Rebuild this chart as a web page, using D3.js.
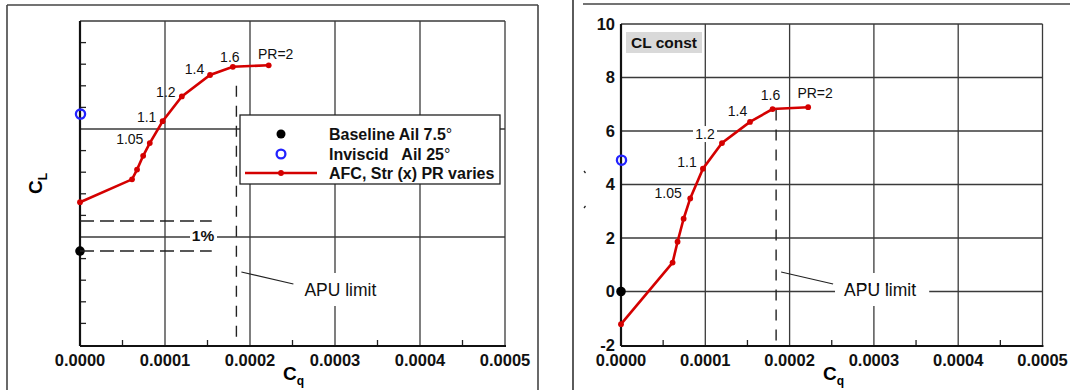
<!DOCTYPE html>
<html>
<head>
<meta charset="utf-8">
<script src="https://cdn.jsdelivr.net/npm/d3@7"></script>
<style>
  body { margin: 0; background: #fff; }
  text { font-family: "Liberation Sans", Arial, sans-serif; white-space: pre; }
</style>
</head>
<body>
<svg id="chart" width="1070" height="390"></svg>
<script>
// Cq of each AFC point, pressure ratio labels
var cq = [0, 0.0000612, 0.0000671, 0.0000743, 0.0000821, 0.0000972, 0.0001198, 0.000153, 0.0001798, 0.000222];
var prLabels = ['', '', '', '', '1.05', '1.1', '1.2', '1.4', '1.6', 'PR=2'];
// left panel: CL
var clAfc = [1.4161, 1.4267, 1.4312, 1.4376, 1.4435, 1.4536, 1.4651, 1.475, 1.4788, 1.4795];
var clBaseline = 1.3935;
var clInviscid = 1.4569;
// right panel: CL const
var constAfc = [-1.22, 1.08, 1.86, 2.72, 3.48, 4.59, 5.55, 6.34, 6.82, 6.89];
var constBaseline = 0;
var constInviscid = 4.91;
var apuLimit = 0.000184;
var xTicks = [0, 0.0001, 0.0002, 0.0003, 0.0004, 0.0005];
var xMinor = [0.00005, 0.00015, 0.00025, 0.00035, 0.00045];
var yTicksLeft = [1.40, 1.45, 1.50];
var yMinorLeft = [1.36, 1.37, 1.38, 1.39, 1.41, 1.42, 1.43, 1.44, 1.46, 1.47, 1.48, 1.49];
var yTicksRight = [-2, 0, 2, 4, 6, 8, 10];

var red = '#d40000', grid = '#3a3a3a';
var svg = d3.select('#chart');

function line(g, x1, y1, x2, y2, stroke, w, dash) {
  var l = g.append('line').attr('x1', x1).attr('y1', y1).attr('x2', x2).attr('y2', y2)
    .attr('stroke', stroke).attr('stroke-width', w);
  if (dash) l.attr('stroke-dasharray', dash);
  return l;
}

// panel frames
line(svg, 7, 5, 7, 390, '#444', 1.6);
line(svg, 7, 5, 538, 5, '#444', 1.6);
line(svg, 538, 5, 538, 390, '#444', 1.6);
line(svg, 573, 0, 573, 390, '#333', 1.6);
line(svg, 583, 4, 1070, 4, '#444', 1.6);

function panel(opts) {
  var x = opts.x, y = opts.y, g = svg.append('g');
  var x0 = x.range()[0], x1 = x.range()[1], y0 = y.range()[0], y1 = y.range()[1];

  // grid
  xTicks.slice(1).forEach(function(t) { line(g, x(t), y0, x(t), y1, grid, 1.3); });
  opts.yTicks.forEach(function(t) { if (y(t) < y0 - 1) line(g, x0, y(t), x1, y(t), grid, 1.3); });

  // minor ticks
  xMinor.forEach(function(t) { line(g, x(t), y0, x(t), y0 - 5, '#222', 1.3); });
  (opts.yMinor || []).forEach(function(t) { line(g, x0, y(t), x0 + 6, y(t), '#222', 1.3); });

  // axes
  line(g, x0, y0 + 1, x1 + 1, y0 + 1, '#111', 2.2);
  line(g, x0, y0 + 1, x0, y1, '#111', 2.2);

  g.selectAll('.xl').data(xTicks).enter().append('text')
    .attr('x', function(d) { return x(d); }).attr('y', 366)
    .attr('text-anchor', 'middle').attr('font-size', 16.5).attr('font-weight', 'bold').attr('fill', '#111')
    .text(function(d) { return d3.format('.4f')(d); });

  if (opts.yLabels) {
    g.selectAll('.yl').data(opts.yTicks).enter().append('text')
      .attr('x', x0 - 6).attr('y', function(d) { return y(d); }).attr('dy', '0.35em')
      .attr('text-anchor', 'end').attr('font-size', 16.5).attr('font-weight', 'bold').attr('fill', '#111')
      .text(function(d) { return d; });
  }

  // x axis title
  var xt = g.append('text').attr('x', opts.cqX).attr('y', 380).attr('font-size', 19).attr('font-weight', 'bold');
  xt.append('tspan').text('C');
  xt.append('tspan').attr('font-size', 12).attr('dy', 5).text('q');

  // APU limit
  var xa = x(apuLimit);
  line(g, xa, y(opts.apuTop), xa, y0, '#222', 1.4, '11,9');
  line(g, xa + 5, 272, xa + 57, 284, '#222', 1.2);
  g.append('rect').attr('x', xa + 59).attr('y', 273).attr('width', 94).attr('height', 33).attr('fill', '#fff');
  g.append('text').attr('x', xa + 68).attr('y', 290).attr('dy', '0.35em').attr('font-size', 17.5).attr('fill', '#111').text('APU limit');

  // AFC curve
  var pts = cq.map(function(d, i) { return [x(d), y(opts.afc[i])]; });
  g.append('path').attr('d', d3.line()(pts)).attr('fill', 'none').attr('stroke', red).attr('stroke-width', 2.6);
  g.selectAll('.pt').data(pts).enter().append('circle')
    .attr('cx', function(d) { return d[0]; }).attr('cy', function(d) { return d[1]; })
    .attr('r', 2.9).attr('fill', red);

  // PR labels
  prLabels.forEach(function(lab, i) {
    if (!lab) return;
    var off = opts.labelOff[i];
    var lx = pts[i][0] + off[0], ly = pts[i][1] + off[1];
    if (opts.labelBg && opts.labelBg[i]) {
      g.append('rect').attr('x', lx - 12).attr('y', ly - 8).attr('width', 24).attr('height', 16).attr('fill', '#fff');
    }
    g.append('text').attr('x', lx).attr('y', ly).attr('dy', '0.35em')
      .attr('text-anchor', 'middle').attr('font-size', 14).attr('fill', '#111').text(lab);
  });

  // baseline and inviscid
  g.append('circle').attr('cx', x(0)).attr('cy', y(opts.baseline)).attr('r', 4.8).attr('fill', '#000');
  g.append('circle').attr('cx', x(0) + 0.5).attr('cy', y(opts.inviscid)).attr('r', 4.6)
    .attr('fill', 'none').attr('stroke', '#2222ff').attr('stroke-width', 2.3);
  return g;
}

// left panel
var xL = d3.scaleLinear().domain([0, 0.0005]).range([80, 505]);
var yL = d3.scaleLinear().domain([1.35, 1.50]).range([345, 21]);
var gL = panel({
  x: xL, y: yL, yTicks: yTicksLeft, yMinor: yMinorLeft, yLabels: false,
  afc: clAfc, baseline: clBaseline, inviscid: clInviscid, apuTop: 1.47, cqX: 283,
  labelOff: [null, null, null, null, [-20, -4], [-16, -4], [-16, -4], [-15.5, -6], [-3, -10], [7, -11]]
});

// 1% band
var cl1 = clBaseline * 1.01;
line(gL, xL(0), yL(cl1), xL(0.000155), yL(cl1), '#222', 1.5, '14,6');
line(gL, xL(0), yL(clBaseline), xL(0.000155), yL(clBaseline), '#222', 1.5, '14,6');
var midY = (yL(cl1) + yL(clBaseline)) / 2;
gL.append('rect').attr('x', 190).attr('y', midY - 8).attr('width', 27).attr('height', 16).attr('fill', '#fff');
gL.append('text').attr('x', 203).attr('y', midY).attr('dy', '0.35em').attr('text-anchor', 'middle')
  .attr('font-size', 15.5).attr('font-weight', 'bold').attr('fill', '#111').text('1%');

// y title C_L
var yt = gL.append('text').attr('transform', 'translate(42,194) rotate(-90)').attr('font-size', 19).attr('font-weight', 'bold');
yt.append('tspan').text('C');
yt.append('tspan').attr('font-size', 12).attr('dy', 5).text('L');

// legend
var leg = gL.append('g');
leg.append('rect').attr('x', 240).attr('y', 115).attr('width', 260).attr('height', 69)
  .attr('fill', '#fff').attr('stroke', '#222').attr('stroke-width', 1.3);
leg.append('circle').attr('cx', 281).attr('cy', 134).attr('r', 4.5).attr('fill', '#000');
leg.append('circle').attr('cx', 281).attr('cy', 154).attr('r', 4.4).attr('fill', 'none').attr('stroke', '#2222ff').attr('stroke-width', 2.3);
line(leg, 245, 173, 317, 173, red, 2.6);
leg.append('circle').attr('cx', 281).attr('cy', 173).attr('r', 2.9).attr('fill', red);
var legText = [['Baseline Ail 7.5', '°'], ['Inviscid   Ail 25', '°'], ['AFC, Str (x) PR varies', '']];
legText.forEach(function(t, i) {
  var tx = leg.append('text').attr('x', 329).attr('y', [134, 154, 173][i]).attr('dy', '0.35em')
    .attr('font-size', 16).attr('font-weight', 'bold').attr('fill', '#111');
  tx.append('tspan').text(t[0]);
  if (t[1]) tx.append('tspan').attr('font-weight', 'normal').text(t[1]);
});

// right panel
var xR = d3.scaleLinear().domain([0, 0.0005]).range([621, 1042.5]);
var yR = d3.scaleLinear().domain([-2, 10]).range([345, 24]);
var gR = panel({
  x: xR, y: yR, yTicks: yTicksRight, yLabels: true,
  afc: constAfc, baseline: constBaseline, inviscid: constInviscid, apuTop: 6.8, cqX: 823,
  labelOff: [null, null, null, null, [-22, -5], [-16, -7], [-17, -9], [-12.5, -11], [-2, -13.6], [7, -14]],
  labelBg: [0, 0, 0, 0, 0, 0, 1, 0, 0, 0]
});
// white gap in the 0 gridline right of the APU label
gR.append('rect').attr('x', xR(apuLimit) + 59).attr('y', 286).attr('width', 94).attr('height', 12).attr('fill', '#fff');
gR.append('text').attr('x', xR(apuLimit) + 68).attr('y', 290).attr('dy', '0.35em').attr('font-size', 17.5).attr('fill', '#111').text('APU limit');

// CL const tag
gR.append('rect').attr('x', 626).attr('y', 32).attr('width', 76).attr('height', 21).attr('fill', '#d9d9d9');
gR.append('text').attr('x', 664).attr('y', 43).attr('dy', '0.35em').attr('text-anchor', 'middle')
  .attr('font-size', 15.5).attr('font-weight', 'bold').attr('fill', '#111').text('CL const');

// clipped y title remnants
line(gR, 584, 171, 585.5, 173, '#222', 1.3);
line(gR, 585.5, 206, 584, 208, '#222', 1.3);
</script>
</body>
</html>
